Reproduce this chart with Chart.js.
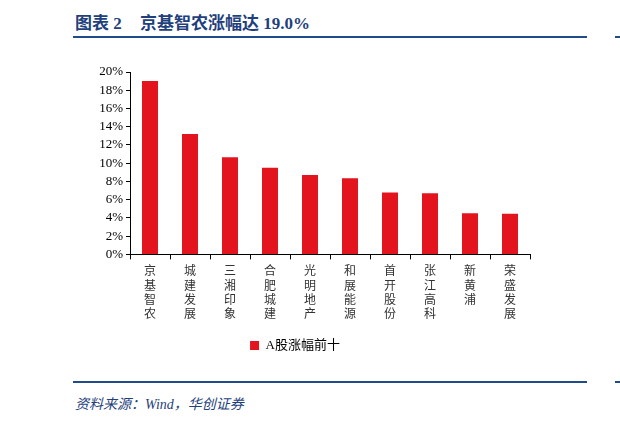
<!DOCTYPE html>
<html>
<head>
<meta charset="utf-8">
<script src="https://cdn.jsdelivr.net/npm/chart.js@4"></script>
<style>
  body { margin: 0; background: #fff; width: 620px; height: 423px; position: relative; overflow: hidden; }
  .title { position: absolute; left: 75px; top: 9px; font-family: "Liberation Serif", "Noto Sans CJK SC"; font-weight: bold; font-size: 17px; color: #1f3f7d; white-space: pre; }
  .title span { margin-left: 14px; }
  .rule { position: absolute; left: 73px; width: 514px; height: 2px; background: #1f4b8a; }
  .rule2 { position: absolute; left: 615px; width: 5px; height: 2px; background: #1f4b8a; }
  .source { position: absolute; left: 75px; top: 393px; font-family: "Liberation Serif", "Noto Sans CJK SC"; font-style: italic; font-size: 14px; color: #1f3f7d; }
  #box { position: absolute; left: 0; top: 0; width: 620px; height: 362px; }
</style>
</head>
<body>
<div class="title">图表 2 <span>京基智农涨幅达 19.0%</span></div>
<div class="rule" style="top:36px"></div>
<div class="rule2" style="top:36px"></div>
<div id="box"><canvas id="myChart"></canvas></div>
<div class="rule" style="top:381px"></div>
<div class="rule2" style="top:381px"></div>
<div class="source">资料来源：Wind，华创证券</div>
<script>
let nombres = ['京基智农', '城建发展', '三湘印象', '合肥城建', '光明地产', '和展能源', '首开股份', '张江高科', '新黄浦', '荣盛发展'];
let valores = [19.0, 13.2, 10.65, 9.5, 8.7, 8.35, 6.8, 6.7, 4.5, 4.45];
let etiquetaSerie = 'A股涨幅前十';
let ticksY = [0, 2, 4, 6, 8, 10, 12, 14, 16, 18, 20];

let etiquetas = nombres.map(n => n.split(''));

var ctx = document.getElementById('myChart').getContext('2d');

let grafico = new Chart(ctx, {
    type: 'bar',
    data: {
        labels: etiquetas,
        datasets: [{
            label: etiquetaSerie,
            data: valores,
            backgroundColor: '#e3141e',
            barPercentage: 0.4,
            categoryPercentage: 1.0
        }]
    },
    options: {
        responsive: true,
        maintainAspectRatio: false,
        animation: false,
        layout: {
            padding: { left: 60, right: 90, top: 72, bottom: 0 }
        },
        plugins: {
            tooltip: { enabled: false },
            legend: {
                position: 'bottom',
                labels: {
                    boxWidth: 9,
                    boxHeight: 9,
                    color: '#000',
                    font: { family: 'Liberation Serif, Noto Sans CJK SC', size: 13 }
                }
            }
        },
        scales: {
            x: {
                offset: true,
                afterFit: function(axis) { axis.height += 4; },
                border: { display: true, color: '#000', width: 1 },
                grid: { offset: true, drawOnChartArea: false, drawTicks: true, tickLength: 5, color: '#000' },
                ticks: {
                    color: '#333',
                    maxRotation: 0,
                    autoSkip: false,
                    padding: 4,
                    font: { family: 'Noto Sans CJK SC', size: 12, lineHeight: 1.2 }
                }
            },
            y: {
                min: 0,
                max: 20,
                afterFit: function(axis) { axis.width = 70; },
                afterBuildTicks: function(axis) { axis.ticks = ticksY.map(v => ({ value: v })); },
                border: { display: true, color: '#000', width: 1 },
                grid: { drawOnChartArea: false, drawTicks: true, tickLength: 4, color: '#000' },
                ticks: {
                    color: '#000',
                    padding: 3,
                    autoSkip: false,
                    font: { family: 'Liberation Serif', size: 13 },
                    callback: function(v) { return v + '%'; }
                }
            }
        }
    }
});
</script>
</body>
</html>
